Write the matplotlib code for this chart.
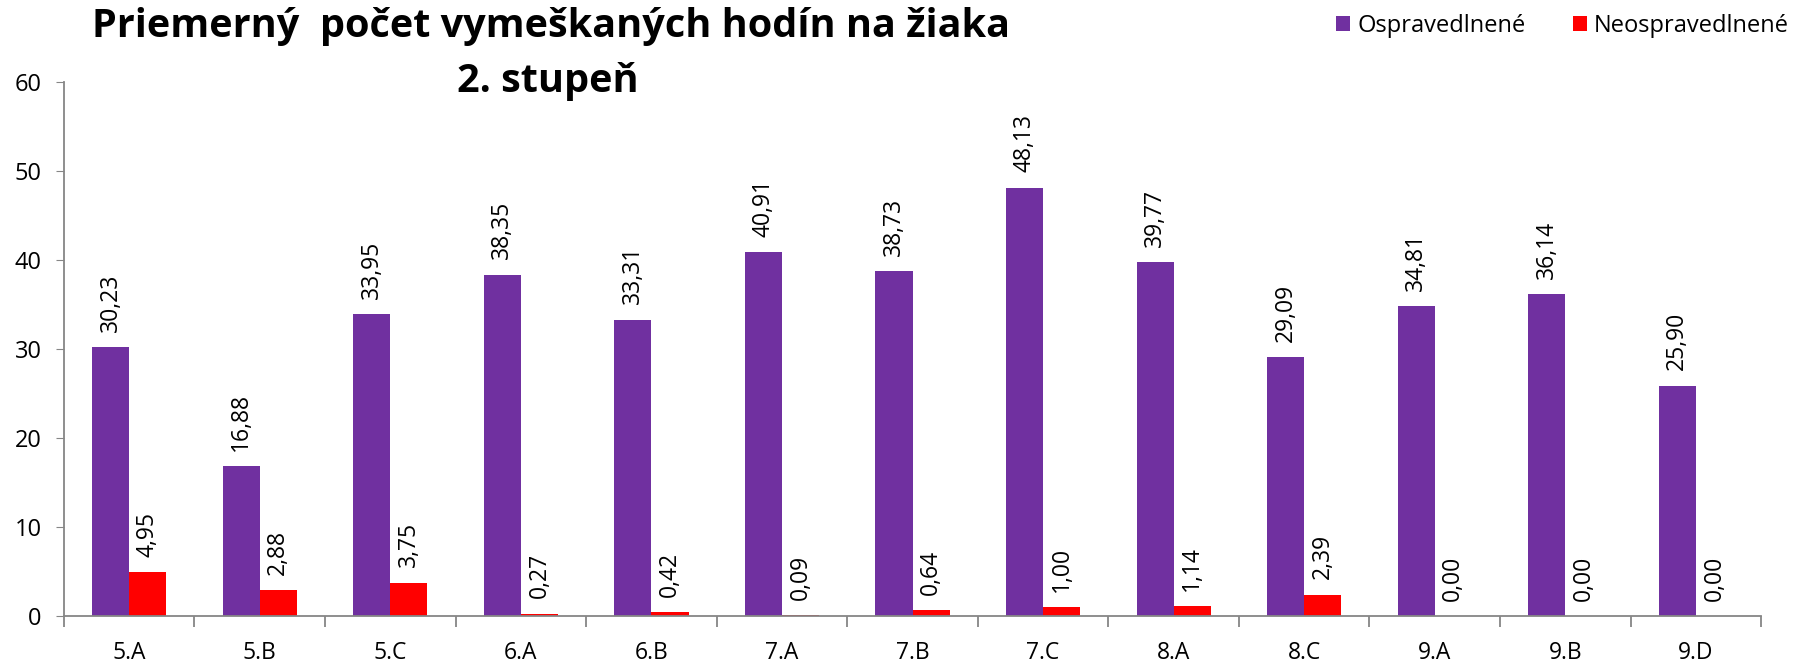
import matplotlib.pyplot as plt
import numpy as np

plt.rcParams['font.family'] = ['Open Sans', 'DejaVu Sans']

triedy = ['5.A', '5.B', '5.C', '6.A', '6.B', '7.A', '7.B', '7.C', '8.A', '8.C', '9.A', '9.B', '9.D']
ospravedlnene = [30.23, 16.88, 33.95, 38.35, 33.31, 40.91, 38.73, 48.13, 39.77, 29.09, 34.81, 36.14, 25.90]
neospravedlnene = [4.95, 2.88, 3.75, 0.27, 0.42, 0.09, 0.64, 1.00, 1.14, 2.39, 0.00, 0.00, 0.00]

purple = '#7030A0'
red = '#FF0000'
gray = '#868686'

fig = plt.figure(figsize=(17.96, 6.62), dpi=100)
ax = fig.add_axes([0.0356, 0.0695, 0.945, 0.8065])

x = np.arange(len(triedy))
w = 0.284
b1 = ax.bar(x - w / 2, ospravedlnene, w, color=purple, label='Ospravedlnené')
b2 = ax.bar(x + w / 2, neospravedlnene, w, color=red, label='Neospravedlnené')

for bars, vals in [(b1, ospravedlnene), (b2, neospravedlnene)]:
    for r, v in zip(bars, vals):
        ax.annotate(f'{v:.2f}'.replace('.', ','), (r.get_x() + r.get_width() / 2, v),
                    xytext=(0, 11), textcoords='offset points', rotation=90,
                    ha='center', va='bottom', fontsize=16.5)

ax.set_xlim(-0.5, len(triedy) - 0.5)
ax.set_ylim(0, 60)
ax.set_yticks(range(0, 61, 10))
ax.tick_params(axis='y', labelsize=17, length=6, color=gray, direction='out', pad=10)
ax.set_xticks(x)
ax.set_xticklabels(triedy)
ax.tick_params(axis='x', which='major', length=0, labelsize=16.5, pad=18)
ax.set_xticks(np.arange(-0.5, len(triedy), 1), minor=True)
ax.tick_params(axis='x', which='minor', length=8, color=gray, width=1.3)

for s in ['top', 'right']:
    ax.spines[s].set_visible(False)
for s in ['left', 'bottom']:
    ax.spines[s].set_color(gray)
    ax.spines[s].set_linewidth(1.3)

fig.text(0.307, 0.96, 'Priemerný  počet vymeškaných hodín na žiaka', ha='center', va='center',
         fontsize=28.5, fontweight='bold')
fig.text(0.305, 0.877, '2. stupeň', ha='center', va='center', fontsize=28.5, fontweight='bold')

fig.legend(loc='upper right', bbox_to_anchor=(1.0, 0.99), ncol=2, frameon=False, fontsize=17,
           handlelength=0.6, handleheight=0.6, handletextpad=0.3, columnspacing=2.0,
           borderaxespad=0.1, borderpad=0.2)

fig.savefig('out.png', dpi=100)
